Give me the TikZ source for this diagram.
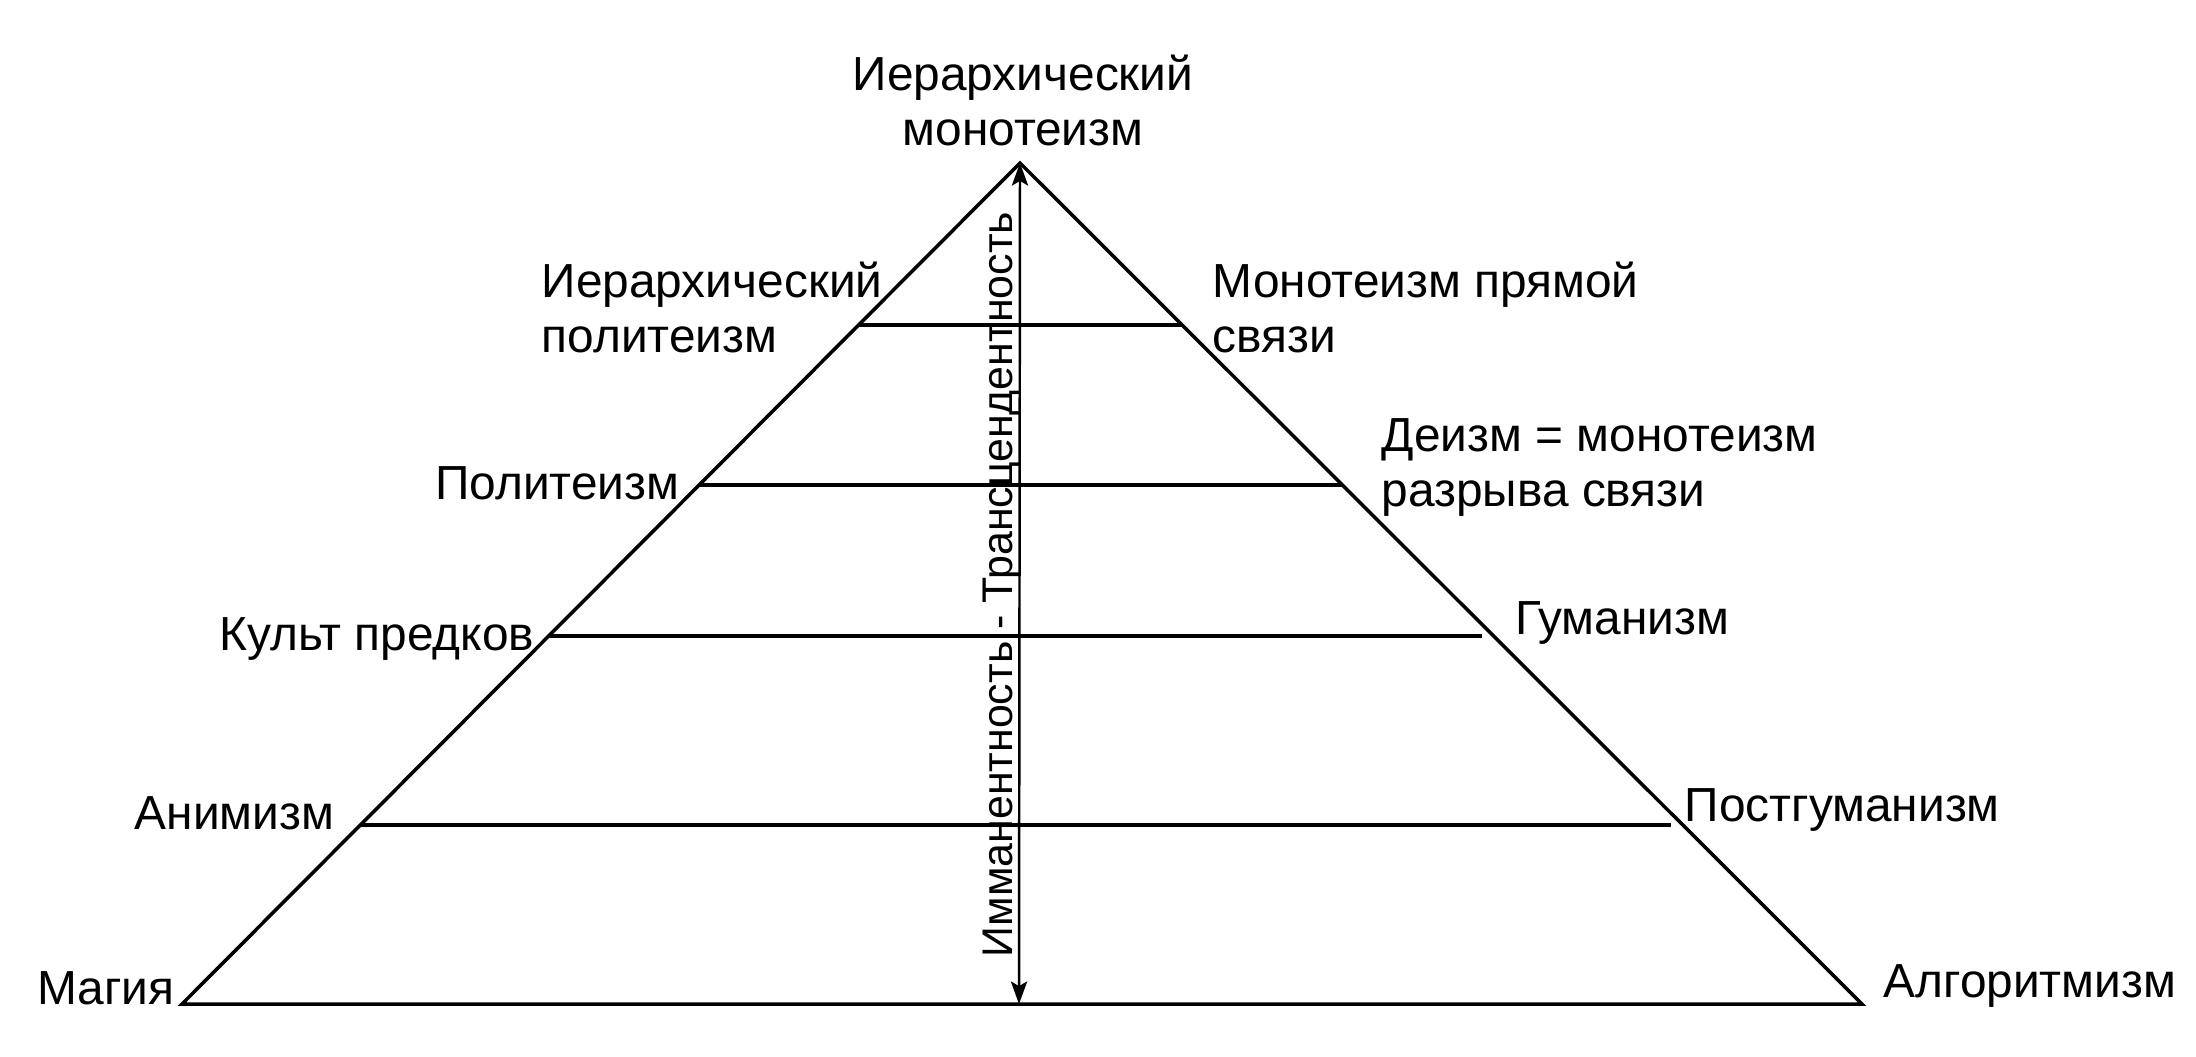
\documentclass[tikz,border=0pt]{standalone}
\usepackage{fontspec}
\setmainfont{Liberation Sans}
\usetikzlibrary{arrows.meta}

\begin{document}
\begin{tikzpicture}[x=0.01cm,y=-0.01cm,line width=1pt,
  >={Stealth[length=6.4pt,width=4.6pt,inset=1.3pt]},
  lbl/.style={inner sep=0pt,font=\fontsize{13.6}{15.4}\selectfont,align=left}]
\useasboundingbox (0,0) rectangle (2196,1056);
% ---------- каркас пирамиды ----------
\coordinate (apex) at (1020,163);
\coordinate (magia) at (182,1004);
\coordinate (algo) at (1862,1004);
\coordinate (mid) at (1019,1004);
\draw (magia) -- (apex) -- (algo) -- cycle;
% ступени
\draw (858.6,325) -- (1182.2,325);
\draw (699,485) -- (1342.4,485);
\draw (548.7,636) -- (1482,636);
\draw (360.4,825) -- (1671,825);
% ось имманентность - трансцендентность
\draw[<->,line width=0.7pt] (mid) -- (apex);
\node[lbl,rotate=90,anchor=base,font=\fontsize{12.2}{14}\selectfont] (axis)
  at (1012,584.5) {Имманентность - Трансцендентность};
% ---------- подписи слева ----------
\node[lbl,anchor=base,align=center] (hmono) at (1023,145)
  {Иерархический\\монотеизм};
\node[lbl,anchor=base west] (hpoly) at (540,352) {Иерархический\\политеизм};
\node[lbl,anchor=base east] (poly) at (681,499) {Политеизм};
\node[lbl,anchor=base east] (cult) at (536,650) {Культ предков};
\node[lbl,anchor=base east] (anim) at (336,829) {Анимизм};
\node[lbl,anchor=base east] (mag) at (176,1004) {Магия};
% ---------- подписи справа ----------
\node[lbl,anchor=base west] (direct) at (1211,352) {Монотеизм прямой\\связи};
\node[lbl,anchor=base west] (deism) at (1380,506) {Деизм = монотеизм\\разрыва связи};
\node[lbl,anchor=base west] (human) at (1514,634) {Гуманизм};
\node[lbl,anchor=base west] (posth) at (1683,821) {Постгуманизм};
\node[lbl,anchor=base west] (alg) at (1882,997) {Алгоритмизм};
\end{tikzpicture}
\end{document}
